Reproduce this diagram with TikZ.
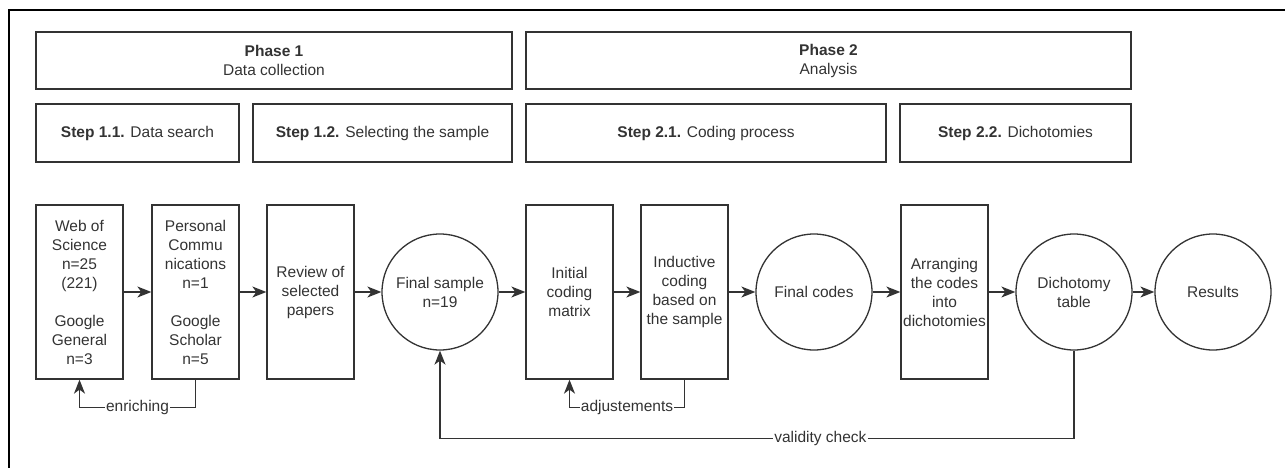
\documentclass[tikz,border=0pt]{standalone}
\usepackage{fontspec}
\setmainfont{Liberation Sans}
\usetikzlibrary{arrows.meta}
\definecolor{inkgray}{HTML}{333333}

\begin{document}
\begin{tikzpicture}[
    x=1pt, y=-1pt,
    every node/.style={font=\fontsize{15.5}{19}\selectfont, text=inkgray, align=center},
    phase/.style={draw=inkgray, line width=1.3pt, rectangle, minimum height=57pt},
    stepbox/.style={draw=inkgray, line width=1.3pt, rectangle, minimum height=58pt},
    proc/.style={draw=inkgray, line width=1.3pt, rectangle, minimum width=87pt, minimum height=174pt, inner sep=1pt},
    milestone/.style={draw=inkgray, line width=1.3pt, circle, minimum size=116pt, inner sep=1pt},
    flow/.style={-{Stealth[length=14pt, width=11pt, inset=4pt]}, draw=inkgray, line width=1.3pt},
    lbl/.style={fill=white, inner sep=1pt}
]
\useasboundingbox (0,0) rectangle (1285,468);

% Frame
\draw[black, line width=2.2pt] (1285,10) -- (9,10) -- (9,468);

% Phases
\node[phase, minimum width=476pt] (ph1) at (274,60.5) {\textbf{Phase 1}\\Data collection};
\node[phase, minimum width=605pt] (ph2) at (828.5,60.5) {\textbf{Phase 2}\\Analysis};

% Steps
\node[stepbox, minimum width=203pt] (s11) at (137.5,133) {\textbf{Step 1.1.} Data search};
\node[stepbox, minimum width=259pt] (s12) at (382.5,133) {\textbf{Step 1.2.} Selecting the sample};
\node[stepbox, minimum width=360pt] (s21) at (706,133) {\textbf{Step 2.1.} Coding process};
\node[stepbox, minimum width=231pt] (s22) at (1015.5,133) {\textbf{Step 2.2.} Dichotomies};

% Process boxes
\node[proc] (ws) at (79.5,292) {Web of\\Science\\n=25\\(221)\\[19pt]Google\\General\\n=3};
\node[proc] (pc) at (195.5,292) {Personal\\Commu\\nications\\n=1\\[19pt]Google\\Scholar\\n=5};
\node[proc] (review) at (310.5,292) {Review of\\selected\\papers};
\node[proc] (matrix) at (569.5,292) {Initial\\coding\\matrix};
\node[proc] (inductive) at (684.5,292) {Inductive\\coding\\based on\\the sample};
\node[proc] (arrange) at (944.5,292) {Arranging\\the codes\\into\\dichotomies};

% Milestones
\node[milestone] (sample) at (440,292) {Final sample\\n=19};
\node[milestone] (codes) at (814,292) {Final codes};
\node[milestone] (table) at (1074,292) {Dichotomy\\table};
\node[milestone] (results) at (1213,292) {Results};

% Main flow
\draw[flow] (ws) -- (pc);
\draw[flow] (pc) -- (review);
\draw[flow] (review) -- (sample);
\draw[flow] (sample) -- (matrix);
\draw[flow] (matrix) -- (inductive);
\draw[flow] (inductive) -- (codes);
\draw[flow] (codes) -- (arrange);
\draw[flow] (arrange) -- (table);
\draw[flow] (table) -- (results);

% Feedback loops
\draw[flow] (pc.south) -- ++(0,28) -| node[lbl, pos=0.25] {enriching} (ws.south);
\draw[flow] (inductive.south) -- ++(0,28) -| node[lbl, pos=0.25] {adjustements} (matrix.south);
\draw[flow] (table.south) -- ++(0,88) -| node[lbl, pos=0.2] {validity check} (sample.south);

\end{tikzpicture}
\end{document}
